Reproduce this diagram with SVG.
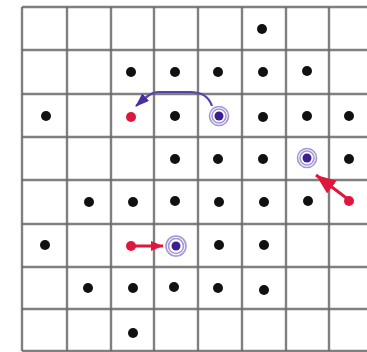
<svg xmlns="http://www.w3.org/2000/svg" width="367" height="352" viewBox="0 0 367 352">
<defs>
<style>
.grid line{stroke:#6a6a6a;stroke-width:2.4;opacity:0.85}
.b{fill:#111}
.r{fill:#e0173c}
.pi{fill:#3b1f8f}
.pr{fill:none;stroke:#a497d6;stroke-width:1.6}
.pa{fill:none;stroke:#5a43a8;stroke-width:2.2}
.ra{fill:none;stroke:#e0173c;stroke-width:3}
</style>
<marker id="ah-p" markerUnits="userSpaceOnUse" markerWidth="16" markerHeight="12" refX="13" refY="5" orient="auto">
<path d="M0,0 L14,5 L0,10 Z" fill="#4a2d9e"/>
</marker>
<marker id="ah-r" markerUnits="userSpaceOnUse" markerWidth="22" markerHeight="18" refX="20" refY="8" orient="auto">
<path d="M0,0 L20,8 L0,16 Z" fill="#e0173c"/>
</marker>
<marker id="ah-r2" markerUnits="userSpaceOnUse" markerWidth="14" markerHeight="12" refX="12" refY="5" orient="auto">
<path d="M0,0 L12,5 L0,10 Z" fill="#e0173c"/>
</marker>
</defs>
<rect width="367" height="352" fill="#fff"/>
<g id="grid" class="grid">
<line x1="22" y1="7" x2="22" y2="351"/>
<line x1="67" y1="7" x2="67" y2="351"/>
<line x1="111" y1="7" x2="111" y2="351"/>
<line x1="154" y1="7" x2="154" y2="351"/>
<line x1="198" y1="7" x2="198" y2="351"/>
<line x1="242" y1="7" x2="242" y2="351"/>
<line x1="286" y1="7" x2="286" y2="351"/>
<line x1="329" y1="7" x2="329" y2="351"/>
<line x1="22" y1="7" x2="367" y2="7"/>
<line x1="22" y1="50" x2="367" y2="50"/>
<line x1="22" y1="94" x2="367" y2="94"/>
<line x1="22" y1="137" x2="367" y2="137"/>
<line x1="22" y1="180" x2="367" y2="180"/>
<line x1="22" y1="224" x2="367" y2="224"/>
<line x1="22" y1="267" x2="367" y2="267"/>
<line x1="22" y1="309" x2="367" y2="309"/>
<line x1="22" y1="351" x2="367" y2="351"/>
</g>
<g id="dots-black">
<circle class="b" cx="262" cy="29" r="5"/>
<circle class="b" cx="131" cy="72" r="5"/>
<circle class="b" cx="175" cy="72" r="5"/>
<circle class="b" cx="218" cy="72" r="5"/>
<circle class="b" cx="263" cy="72" r="5"/>
<circle class="b" cx="307" cy="71" r="5"/>
<circle class="b" cx="46" cy="116" r="5"/>
<circle class="b" cx="175" cy="116" r="5"/>
<circle class="b" cx="263" cy="117" r="5"/>
<circle class="b" cx="307" cy="116" r="5"/>
<circle class="b" cx="349" cy="116" r="5"/>
<circle class="b" cx="175" cy="159" r="5"/>
<circle class="b" cx="218" cy="159" r="5"/>
<circle class="b" cx="263" cy="159" r="5"/>
<circle class="b" cx="349" cy="159" r="5"/>
<circle class="b" cx="89" cy="202" r="5"/>
<circle class="b" cx="133" cy="202" r="5"/>
<circle class="b" cx="175" cy="201" r="5"/>
<circle class="b" cx="219" cy="202" r="5"/>
<circle class="b" cx="264" cy="202" r="5"/>
<circle class="b" cx="308" cy="201" r="5"/>
<circle class="b" cx="45" cy="245" r="5"/>
<circle class="b" cx="219" cy="245" r="5"/>
<circle class="b" cx="264" cy="245" r="5"/>
<circle class="b" cx="88" cy="288" r="5"/>
<circle class="b" cx="133" cy="288" r="5"/>
<circle class="b" cx="174" cy="287" r="5"/>
<circle class="b" cx="218" cy="288" r="5"/>
<circle class="b" cx="264" cy="290" r="5"/>
<circle class="b" cx="133" cy="333" r="5"/>
</g>
<g id="connectors">
<path class="pa" d="M212,106 C209,97 202,92 190,92 L158,92 C152,92 147,96 136,106" marker-end="url(#ah-p)"/>
<line class="ra" x1="349" y1="200" x2="316" y2="175" marker-end="url(#ah-r)"/>
<line class="ra" x1="131" y1="246" x2="163" y2="246" stroke-width="2.5" marker-end="url(#ah-r2)"/>
</g>
<g id="red-dots">
<circle class="r" cx="131" cy="117" r="5"/>
<circle class="r" cx="349" cy="201" r="5"/>
<circle class="r" cx="131" cy="246" r="5"/>
</g>
<g id="target-1">
<circle class="pr" cx="219" cy="116" r="9.5"/>
<circle class="pr" cx="219" cy="116" r="7"/>
<circle class="pi" cx="219" cy="116" r="4.5"/>
</g>
<g id="target-2">
<circle class="pr" cx="307" cy="158" r="9.5"/>
<circle class="pr" cx="307" cy="158" r="7"/>
<circle class="pi" cx="307" cy="158" r="4.5"/>
</g>
<g id="target-3">
<circle class="pr" cx="176" cy="246" r="10"/>
<circle class="pr" cx="176" cy="246" r="7.5"/>
<circle class="pi" cx="176" cy="246" r="4.5"/>
</g>
</svg>
